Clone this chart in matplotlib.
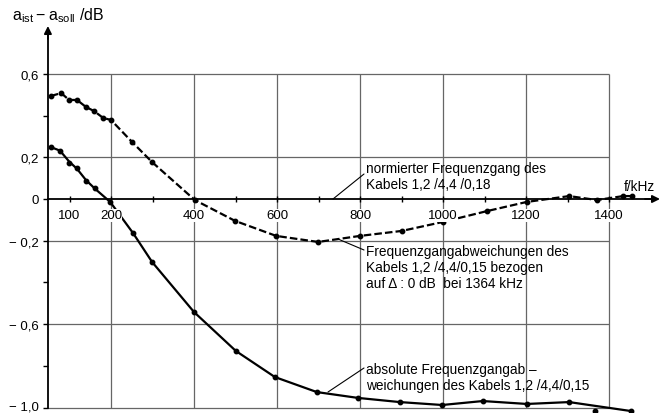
import matplotlib
matplotlib.use('Agg')
import matplotlib.pyplot as plt

plt.rcParams['font.family'] = ['Liberation Sans', 'DejaVu Sans']
plt.rcParams['mathtext.fontset'] = 'custom'
plt.rcParams['mathtext.rm'] = 'Liberation Sans'

# ---------------- data ----------------
# normalised deviation (dashed), referred to 0 dB at 1364 kHz
norm_f = [55, 80, 99, 118, 140, 159, 181, 200, 251, 299, 402, 499, 598, 699,
          800, 901, 1000, 1106, 1202, 1304, 1371, 1434, 1455]
norm_v = [0.494, 0.508, 0.475, 0.475, 0.441, 0.422, 0.389, 0.379, 0.273, 0.177,
          -0.005, -0.105, -0.177, -0.206, -0.177, -0.153, -0.110, -0.058,
          -0.014, 0.014, -0.005, 0.014, 0.014]

# absolute deviation (solid): measured points
abs_pts_f = [55, 77, 99, 118, 140, 161, 198, 253, 299, 400, 501, 595, 696, 795,
             896, 998, 1096, 1202, 1304, 1366, 1453]
abs_pts_v = [0.249, 0.230, 0.173, 0.149, 0.086, 0.053, -0.014, -0.163, -0.302,
             -0.542, -0.729, -0.854, -0.926, -0.954, -0.974, -0.988, -0.969,
             -0.983, -0.974, -1.017, -1.017]
# absolute deviation (solid): drawn curve
abs_line_f = [55, 77, 99, 118, 140, 161, 198, 253, 299, 400, 501, 595, 696, 795,
              896, 998, 1096, 1202, 1304, 1366, 1453]
abs_line_v = [0.249, 0.232, 0.180, 0.145, 0.090, 0.050, -0.014, -0.163, -0.302,
              -0.542, -0.729, -0.854, -0.926, -0.954, -0.974, -0.988, -0.969,
              -0.983, -0.974, -0.992, -1.017]

x_ticks = [100, 200, 300, 400, 500, 600, 700, 800, 900, 1000, 1100, 1200, 1300, 1400]
x_tick_labels = ['100', '200', '', '400', '', '600', '', '800', '', '1000', '',
                 '1200', '', '1400']
y_ticks = [-1.0, -0.8, -0.6, -0.4, -0.2, 0.0, 0.2, 0.4, 0.6]
y_tick_labels = ['\u2212 1,0', '', '\u2212 0,6', '', '\u2212 0,2', '0', '0,2', '', '0,6']
grid_x = [200, 400, 600, 800, 1000, 1200, 1400]
grid_y = [-1.0, -0.6, -0.2, 0.2, 0.6]

# ---------------- figure ----------------
fig = plt.figure(figsize=(6.67, 4.14), dpi=100)
ax = fig.add_axes([0, 0, 1, 1])

X0, SX = 28.0, 0.415
Y0, SY = 200.0, 208.5
def px(x):
    return (x - X0) / SX
def py(y):
    return (Y0 - y) / SY

ax.set_xlim(px(0), px(667))
ax.set_ylim(py(414), py(0))

# grid
ax.vlines(grid_x, -1.0, 0.6, colors='#666666', lw=0.9, zorder=1)
ax.hlines(grid_y, 48, 1400, colors='#666666', lw=0.9, zorder=1)

# curves
ax.plot(norm_f, norm_v, color='black', lw=1.6, dashes=[3.4, 1.4],
        solid_capstyle='butt', zorder=3)
ax.plot(norm_f, norm_v, 'o', color='black', ms=3.2, zorder=3)
ax.plot(abs_line_f, abs_line_v, color='black', lw=1.6, zorder=3)
ax.plot(abs_pts_f, abs_pts_v, 'o', color='black', ms=3.2, zorder=3)

# axes
for s in ['top', 'right']:
    ax.spines[s].set_visible(False)
ax.spines['left'].set_position(('data', 48))
ax.spines['left'].set_bounds(-1.0, py(32))
ax.spines['bottom'].set_position(('data', 0))
ax.spines['bottom'].set_bounds(48, px(652))
for s in ['left', 'bottom']:
    ax.spines[s].set_linewidth(1.3)
    ax.spines[s].set_zorder(4)

ax.annotate('', xy=(48, py(27)), xytext=(48, py(40)),
            arrowprops=dict(arrowstyle='-|>', lw=1.3, color='black',
                            mutation_scale=11, shrinkA=0, shrinkB=0), zorder=4)
ax.annotate('', xy=(px(660), 0), xytext=(px(645), 0),
            arrowprops=dict(arrowstyle='-|>', lw=1.3, color='black',
                            mutation_scale=11, shrinkA=0, shrinkB=0), zorder=4)

ax.set_xticks(x_ticks)
ax.set_xticklabels(x_tick_labels)
ax.set_yticks(y_ticks)
ax.set_yticklabels([lab if v != -1.0 else '' for v, lab in zip(y_ticks, y_tick_labels)])
ax.tick_params(axis='x', direction='inout', length=5, width=1, pad=5,
               labelsize=9.5)
ax.tick_params(axis='y', direction='out', length=3.5, width=1, pad=3,
               labelsize=9.5)
for lbl in ax.get_xticklabels():
    lbl.set_bbox(dict(facecolor='white', edgecolor='none', pad=0.3))
ax.xaxis.set_zorder(3.5)
# bottom y label placed slightly up so it stays inside the image
ax.text(px(38.5), py(406.5), y_tick_labels[0], fontsize=9.5, ha='right',
        va='center_baseline')

# axis titles
ax.text(px(12), py(16), r'$\mathregular{a_{ist} - a_{soll}}$ /dB',
        fontsize=11.5, ha='left', va='center')
ax.text(px(624), py(187), 'f/kHz', fontsize=9.8, ha='left', va='center')

# annotations
fs = 9.8
ax.text(px(366), py(177), 'normierter Frequenzgang des\nKabels 1,2 /4,4 /0,18',
        fontsize=fs, ha='left', va='center', linespacing=1.2)
ax.annotate('', xy=(px(333), 0), xytext=(px(364), py(175)),
            arrowprops=dict(arrowstyle='-', lw=0.8, color='black',
                            shrinkA=0, shrinkB=0))

ax.text(px(366), py(268),
        'Frequenzgangabweichungen des\nKabels 1,2 /4,4/0,15 bezogen\n'
        'auf \u0394 : 0 dB  bei 1364 kHz',
        fontsize=fs, ha='left', va='center', linespacing=1.2)
ax.annotate('', xy=(px(338), py(240)), xytext=(px(364), py(251)),
            arrowprops=dict(arrowstyle='-', lw=0.8, color='black',
                            shrinkA=0, shrinkB=0))

ax.text(px(366), py(378),
        'absolute Frequenzgangab \u2013\nweichungen des Kabels 1,2 /4,4/0,15',
        fontsize=fs, ha='left', va='center', linespacing=1.2)
ax.annotate('', xy=(px(328), py(393)), xytext=(px(364), py(369)),
            arrowprops=dict(arrowstyle='-', lw=0.8, color='black',
                            shrinkA=0, shrinkB=0))

fig.savefig('out.png', dpi=100)
